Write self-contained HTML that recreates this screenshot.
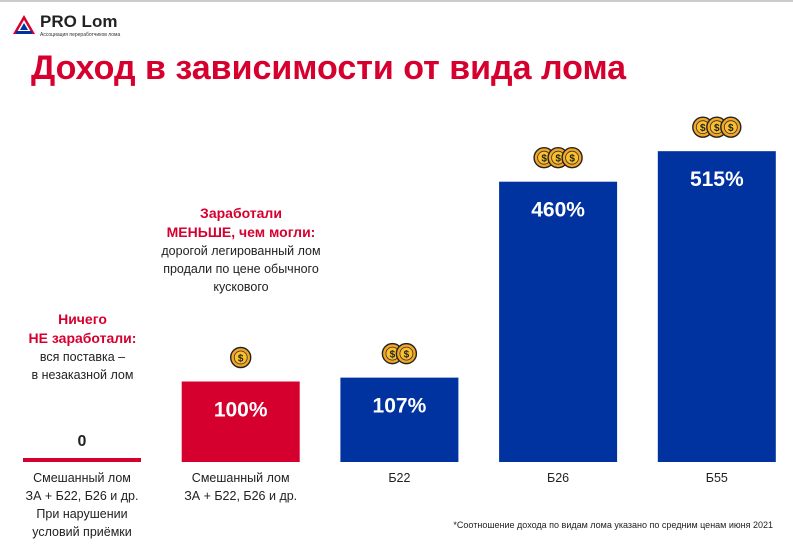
<!DOCTYPE html>
<html><head><meta charset="utf-8"><style>
body{margin:0;width:793px;height:549px;background:#fff;font-family:"Liberation Sans",sans-serif;overflow:hidden;position:relative}
.t{position:absolute;text-align:center;color:#222;font-size:12.5px;line-height:18px}
.r{color:#d6002f;font-weight:bold;font-size:14px;line-height:19px}
</style></head><body>
<div style="position:absolute;left:0;top:0;width:793px;height:2px;background:#ccc"></div>
<svg style="position:absolute;left:12px;top:14px" width="24" height="22" viewBox="0 0 24 22">
<polygon points="12,1 23,20 1,20" fill="#d6002f"/><polygon points="12,6 19,18 5,18" fill="#fff"/><polygon points="12,9 16,16 8,16" fill="#0033a0"/><rect x="4" y="17" width="16" height="3" fill="#0033a0"/></svg>
<div style="position:absolute;left:40px;top:12px;font-weight:bold;font-size:17px;color:#222">PRO Lom</div>
<div style="position:absolute;left:40px;top:32px;font-size:5px;color:#333">Ассоциация переработчиков лома</div>
<div style="position:absolute;left:31px;top:49px;font-weight:bold;font-size:34px;color:#d6002f">Доход в зависимости от вида лома</div>
<div class="t" style="left:0;width:165px;top:310px"><span class="r">Ничего<br>НЕ заработали:</span><br>вся поставка –<br>в незаказной лом</div>
<div class="t" style="left:130px;width:222px;top:204px"><span class="r">Заработали<br>МЕНЬШЕ, чем могли:</span><br>дорогой легированный лом<br>продали по цене обычного<br>кускового</div>
<div class="t" style="left:420px;width:353px;top:516px;font-size:9px;text-align:right">*Соотношение дохода по видам лома указано по средним ценам июня 2021</div>
<svg id="chart" style="position:absolute;left:0;top:0" width="793" height="549"></svg>
<script>
const categories=["Смешанный лом|ЗА + Б22, Б26 и др.|При нарушении|условий приёмки","Смешанный лом|ЗА + Б22, Б26 и др.","Б22","Б26","Б55"];
const values=[0,100,107,460,515];
const valueLabels=["0","100%","107%","460%","515%"];
const coins=[0,1,2,3,3];
const colors=["#d6002f","#d6002f","#0033a0","#0033a0","#0033a0"];
const NS="http://www.w3.org/2000/svg",svg=document.getElementById('chart');
const base=462,x0=23,step=158.7,bw=118;
function xs(i){return x0+i*step;}
function hs(v){return v>0?25+0.555*v:4;}
function el(t,a){const e=document.createElementNS(NS,t);for(const k in a)e.setAttribute(k,a[k]);svg.appendChild(e);return e;}
values.forEach((v,i)=>{
 const x=xs(i),h=hs(v),top=base-h;
 const b=el('rect',{x:x,y:top,width:bw,height:h,fill:colors[i]});
 
 
 const lbl=el('text',{x:x+bw/2,y:v>0?top+35:top-12,'text-anchor':'middle','font-size':v>0?21:16,'font-weight':'bold',fill:v>0?'#fff':'#222','font-family':'Liberation Sans, sans-serif'});
 lbl.textContent=valueLabels[i];
 
 
 const n=coins[i];
 for(let c=0;c<n;c++){
  const cx=x+bw/2+(c-(n-1)/2)*14,cy=top-24;
  const g=el('g',{});
  
  
  const a=document.createElementNS(NS,'circle');a.setAttribute('cx',cx);a.setAttribute('cy',cy);a.setAttribute('r',10);a.setAttribute('fill','#f5a623');a.setAttribute('stroke','#222');a.setAttribute('stroke-width','1.4');g.appendChild(a);
  const b2=document.createElementNS(NS,'circle');b2.setAttribute('cx',cx);b2.setAttribute('cy',cy);b2.setAttribute('r',6.5);b2.setAttribute('fill','#fbc02d');b2.setAttribute('stroke','#333');b2.setAttribute('stroke-width','0.8');g.appendChild(b2);
  const s=document.createElementNS(NS,'text');s.setAttribute('x',cx);s.setAttribute('y',cy+4);s.setAttribute('text-anchor','middle');s.setAttribute('font-size','10');s.setAttribute('font-weight','bold');s.setAttribute('fill','#222');s.setAttribute('font-family','Liberation Sans, sans-serif');s.textContent='$';g.appendChild(s);
 }
 categories[i].split('|').forEach((line,j)=>{
  const t=el('text',{x:x+bw/2,y:482+j*18,'text-anchor':'middle','font-size':12.5,fill:'#222','font-family':'Liberation Sans, sans-serif'});
  t.textContent=line;
  
  
 });
});
</script>
</body></html>
